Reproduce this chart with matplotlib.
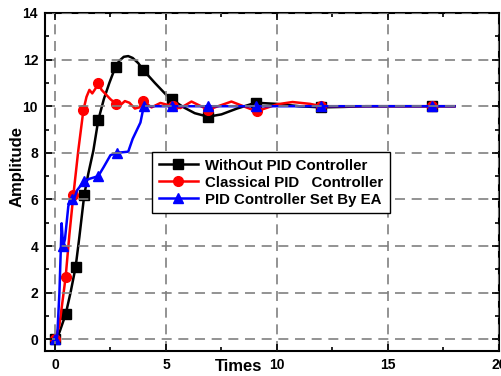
import numpy as np
import matplotlib
matplotlib.use("Agg")
import matplotlib.pyplot as plt
from matplotlib.ticker import MultipleLocator

plt.rcParams['font.family'] = ['Liberation Sans', 'DejaVu Sans']
plt.rcParams['font.weight'] = 'bold'

# ==========================================
# data
# ==========================================
# WithOut PID Controller
t_open = [0, 0.2, 0.48, 0.7, 0.93, 1.1, 1.32, 1.5, 1.73, 1.95, 2.2, 2.45, 2.73,
          2.9, 3.1, 3.3, 3.5, 3.75, 3.98, 4.5, 5.0, 5.25, 5.8, 6.3, 6.9, 7.5, 8.2, 9.04,
          10, 11, 12, 13, 14, 15, 16, 17, 18]
y_open = [0, 0.3, 1.07, 2.0, 3.1, 4.4, 6.2, 7.1, 8.1, 9.4, 10.3, 11.0, 11.7,
          11.95, 12.12, 12.15, 12.07, 11.85, 11.55, 11.0, 10.5, 10.3, 9.95, 9.7, 9.55, 9.65, 9.9, 10.15,
          10.1, 10.0, 9.95, 9.97, 10, 10, 10, 10, 10]
mk_open = [0, 2, 4, 6, 9, 12, 18, 21, 24, 27, 30, 35]

# Classical PID Controller
t_pid = [0, 0.2, 0.48, 0.65, 0.83, 1.05, 1.28, 1.42, 1.55, 1.68, 1.82, 1.95, 2.1,
         2.3, 2.5, 2.75, 2.95, 3.15, 3.35, 3.6, 3.8, 3.98, 4.35, 4.75, 5.3, 5.65,
         6.15, 6.9, 7.95, 9.08, 10.0, 10.7, 11.5, 12, 13, 14, 15, 16, 17, 18]
y_pid = [0, 0.6, 2.67, 4.5, 6.2, 8.1, 9.83, 10.4, 10.7, 10.55, 10.75, 11.0, 10.7,
         10.5, 10.3, 10.1, 10.05, 10.22, 10.15, 9.9, 9.95, 10.22, 9.95, 10.14, 10.0, 9.92,
         10.2, 9.85, 10.2, 9.78, 10.08, 10.18, 10.1, 10.0, 10, 10, 10, 10, 10, 10]
mk_pid = [0, 2, 4, 6, 11, 15, 21, 24, 27, 29, 33, 38]

# PID Controller Set By EA
t_ea = [0, 0.1, 0.2, 0.3, 0.37, 0.45, 0.6, 0.68, 0.75, 0.85, 1.0, 1.32, 1.6,
        1.95, 2.2, 2.5, 2.79, 3.3, 3.5, 3.7, 3.85, 4.0, 4.5, 5.25, 6.0, 6.9,
        8.0, 9.04, 10, 12, 14, 16, 17, 18]
y_ea = [0, 0.1, 2.0, 4.98, 4.0, 4.3, 5.7, 6.0, 6.0, 6.0, 6.4, 6.8, 6.9,
        7.0, 7.4, 7.9, 8.0, 8.05, 8.6, 9.0, 9.3, 10.0, 10.0, 10.0, 10.0, 10.0,
        10.0, 10.0, 10, 10, 10, 10, 10, 10]
mk_ea = [0, 4, 8, 11, 13, 16, 21, 23, 25, 27, 29, 32]

labels = ['WithOut PID Controller', 'Classical PID   Controller',
          'PID Controller Set By EA']

# ==========================================
# plot
# ==========================================
fig = plt.figure(figsize=(5.01, 3.76), dpi=100)
ax = fig.add_axes([0.0898, 0.0665, 0.906, 0.899])

ax.plot(t_open, y_open, color='black', lw=1.8, marker='s', ms=6.5,
        markevery=mk_open, label=labels[0])
ax.plot(t_pid, y_pid, color='#ff0000', lw=1.8, marker='o', ms=7,
        markevery=mk_pid, label=labels[1])
ax.plot(t_ea, y_ea, color='#0000ff', lw=1.8, marker='^', ms=7.5,
        markevery=mk_ea, label=labels[2])

ax.set_xlim(-0.45, 20)
ax.set_ylim(-0.5, 14)
ax.xaxis.set_major_locator(MultipleLocator(5))
ax.xaxis.set_minor_locator(MultipleLocator(2.5))
ax.yaxis.set_major_locator(MultipleLocator(2))
ax.yaxis.set_minor_locator(MultipleLocator(1))
ax.tick_params(which='both', direction='in', top=True, right=True,
               labelsize=10, width=1.2)
ax.tick_params(which='major', length=5, pad=5)
ax.tick_params(which='minor', length=3)
for lab in ax.get_xticklabels() + ax.get_yticklabels():
    lab.set_fontweight('bold')
for sp in ax.spines.values():
    sp.set_linewidth(1.5)

# grid on top of the curves (Origin style)
ax.set_axisbelow(False)
ax.grid(True, which='major', color='#808080', lw=1.2, linestyle=(0, (6, 4)))

ax.set_xlabel('Times', fontsize=12, fontweight='bold')
ax.xaxis.set_label_coords(0.427, -0.047)
ax.xaxis.label.set_va('center')
ax.set_ylabel('Amplitude', fontsize=12, fontweight='bold')
ax.yaxis.set_label_coords(-0.062, 0.546)
ax.yaxis.label.set_va('center')

leg = ax.legend(loc='upper left', bbox_to_anchor=(0.236, 0.589), fontsize=10.8,
                frameon=True, fancybox=False, edgecolor='black', framealpha=1,
                handlelength=2.6, borderpad=0.45, labelspacing=0.2,
                handletextpad=0.5, borderaxespad=0)
leg.get_frame().set_linewidth(1.0)
for txt in leg.get_texts():
    txt.set_fontweight('bold')

fig.savefig('out.png', dpi=100)
